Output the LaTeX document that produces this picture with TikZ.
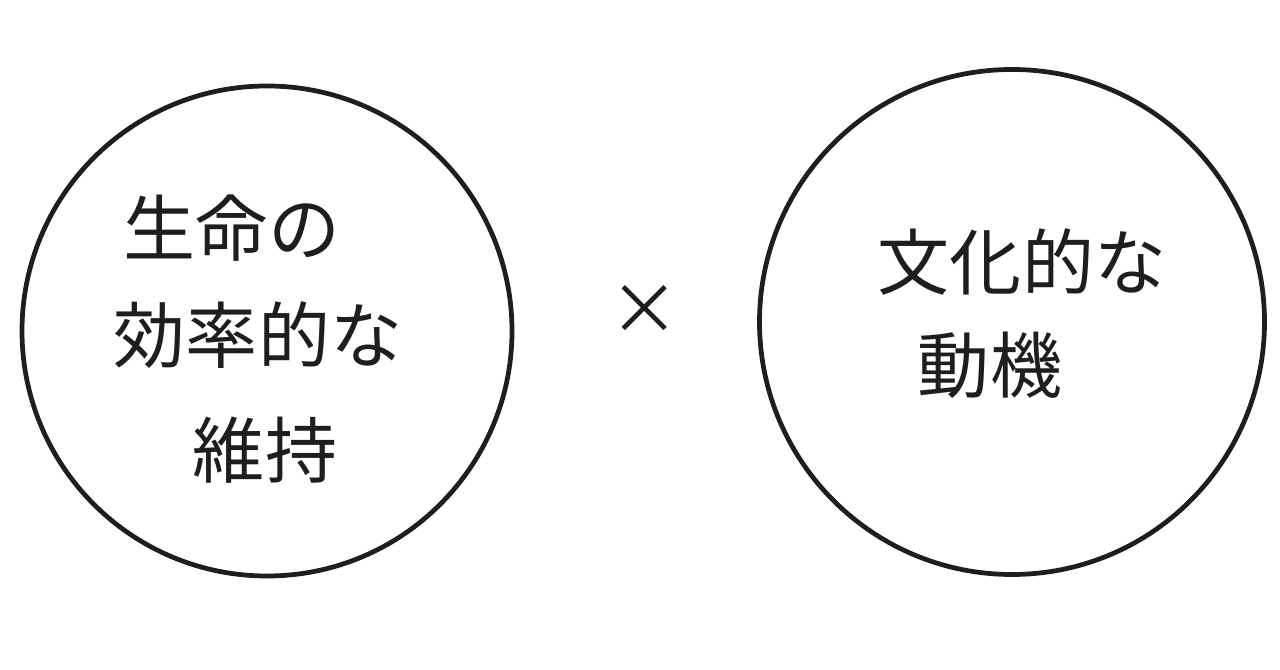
\documentclass[tikz,border=0pt]{standalone}
\usepackage{fontspec}
\newfontfamily\jpfont{Noto Sans CJK JP}
\definecolor{ink}{HTML}{1E1E1E}
\begin{document}
\begin{tikzpicture}
	[ball/.style={circle,draw=ink,line width=2.7pt},word/.style={text=ink,font=\jpfont\fontsize{41}{48}\selectfont}]
\useasboundingbox (0,0) rectangle (25.6,13.4);
\node[ball,minimum size=9.8cm] (left) at (5.34,6.78) {};
\node[ball,minimum size=10.1cm] (right) at (20.24,6.96) {};
\node[word] (l1) at (4.64,8.84) {生命の};
\node[word] (l2) at (5.16,6.70) {効率的な};
\node[word] (l3) at (5.30,4.40) {維持};
\node[word] (r1) at (20.44,8.16) {文化的な};
\node[word] (r2) at (19.80,6.10) {動機};
\node[text=ink,font=\jpfont\fontsize{40}{48}\selectfont] (times) at (12.9,7.2) {×};
\end{tikzpicture}
\end{document}
